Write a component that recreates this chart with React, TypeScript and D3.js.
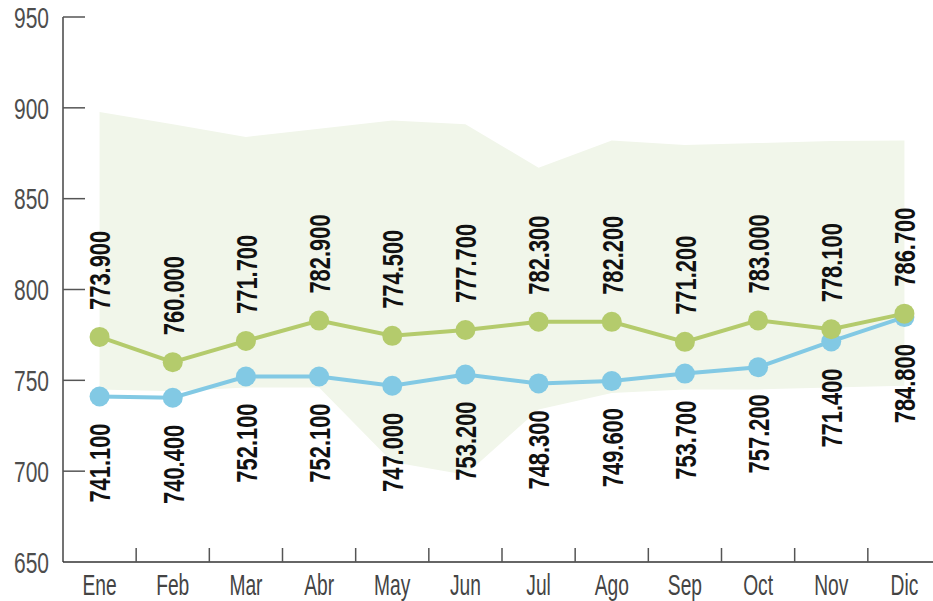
import * as d3 from "d3";
import React, { useEffect, useRef } from "react";

const months = ["Ene", "Feb", "Mar", "Abr", "May", "Jun", "Jul", "Ago", "Sep", "Oct", "Nov", "Dic"];
const greenValues = [773.9, 760.0, 771.7, 782.9, 774.5, 777.7, 782.3, 782.2, 771.2, 783.0, 778.1, 786.7];
const blueValues = [741.1, 740.4, 752.1, 752.1, 747.0, 753.2, 748.3, 749.6, 753.7, 757.2, 771.4, 784.8];
const bandUpper = [897.7, 891, 884, 888.5, 893, 891, 867, 882, 879.5, 880.6, 881.7, 882];
const bandLower = [745, 744, 746, 746, 705, 698, 734, 743, 745, 745, 746, 747];
const yTicks = [650, 700, 750, 800, 850, 900, 950];

const W = 933, H = 601;
const GREEN = "#b4cb6c";
const BLUE = "#82c9e4";
const BAND = "#f1f6ea";
const FONT = "'Liberation Sans', Arimo, sans-serif";

const es = d3.formatLocale({ decimal: ",", thousands: ".", grouping: [3], currency: ["", ""] });
const fmt = (v: number) => es.format(",.0f")(Math.round(v * 1000));

export default function App() {
    const ref = useRef<SVGSVGElement>(null);

    useEffect(() => {
        const svg = d3.select(ref.current);
        svg.selectAll("*").remove();

        const x = d3.scaleBand<string>().domain(months).range([63, 941]);
        const cx = (m: string) => x(m)! + x.bandwidth() / 2;
        const y = d3.scaleLinear().domain([650, 950]).range([562, 17]);

        // shaded band
        const area = d3.area<number>()
            .x((_, i) => cx(months[i]))
            .y0((_, i) => y(bandLower[i]))
            .y1(d => y(d));
        svg.append("path").datum(bandUpper).attr("d", area).attr("fill", BAND);

        // y axis
        svg.append("line").attr("x1", 63).attr("x2", 63).attr("y1", 17).attr("y2", 562)
            .attr("stroke", "#444").attr("stroke-width", 1.5);
        const yt = svg.append("g");
        yt.selectAll("line").data(yTicks.slice(1)).enter().append("line")
            .attr("x1", 63).attr("x2", 85).attr("y1", d => y(d)).attr("y2", d => y(d))
            .attr("stroke", "#555").attr("stroke-width", 1.5);
        yt.selectAll("text").data(yTicks).enter().append("text")
            .attr("transform", d => "translate(49," + y(d) + ") scale(0.7,1)")
            .attr("dy", "0.36em")
            .attr("text-anchor", "end").attr("font-family", FONT).attr("font-size", 30)
            .attr("fill", "#4d4d4d").text(d => d);

        // x axis
        svg.append("line").attr("x1", 63).attr("x2", W).attr("y1", 562).attr("y2", 562)
            .attr("stroke", "#333").attr("stroke-width", 1.5);
        const xt = svg.append("g");
        xt.selectAll("line").data(months.slice(1)).enter().append("line")
            .attr("x1", d => x(d)!).attr("x2", d => x(d)!).attr("y1", 562).attr("y2", 548)
            .attr("stroke", "#555").attr("stroke-width", 1.5);
        xt.selectAll("text").data(months).enter().append("text")
            .attr("transform", d => "translate(" + cx(d) + ",595) scale(0.64,1)")
            .attr("text-anchor", "middle")
            .attr("font-family", FONT).attr("font-size", 30).attr("fill", "#444").text(d => d);

        const line = d3.line<number>().x((_, i) => cx(months[i])).y(d => y(d));

        const drawSeries = (vals: number[], color: string) => {
            svg.append("path").datum(vals).attr("d", line).attr("fill", "none")
                .attr("stroke", color).attr("stroke-width", 4);
            svg.append("g").selectAll("circle").data(vals).enter().append("circle")
                .attr("cx", (_, i) => cx(months[i])).attr("cy", d => y(d)).attr("r", 10)
                .attr("fill", color);
        };
        drawSeries(blueValues, BLUE);
        drawSeries(greenValues, GREEN);

        // value labels
        const labels = (vals: number[], above: boolean) => {
            svg.append("g").selectAll("text").data(vals).enter().append("text")
                .attr("transform", (d, i) => {
                    const px = cx(months[i]);
                    const py = above ? y(d) - 27 : y(d) + 27;
                    return "translate(" + px + "," + py + ") rotate(-90) scale(0.73,1)";
                })
                .attr("dy", "0.36em")
                .attr("text-anchor", above ? "start" : "end")
                .attr("font-family", FONT).attr("font-weight", "bold").attr("font-size", 30)
                .attr("fill", "#111").text(d => fmt(d));
        };
        labels(greenValues, true);
        labels(blueValues, false);
    }, []);

    return (
        <svg ref={ref} width={W} height={H}
            style={{ position: "absolute", left: 0, top: 0, background: "#fff" }} />
    );
}
